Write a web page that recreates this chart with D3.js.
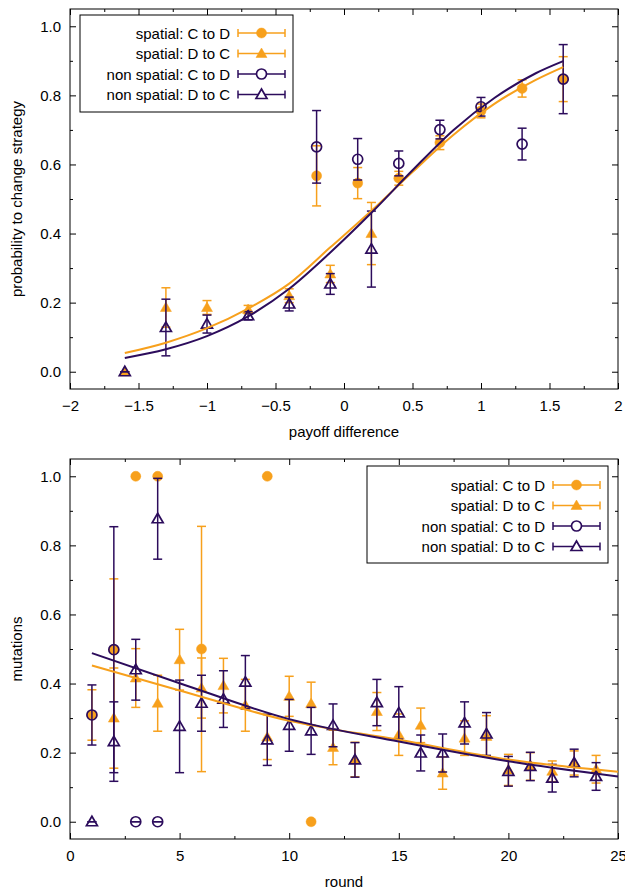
<!DOCTYPE html>
<html>
<head>
<meta charset="utf-8">
<script src="https://cdn.jsdelivr.net/npm/d3@7"></script>
<style>
  body { margin: 0; background: #fff; }
  text { font-family: "Liberation Sans", Arial, sans-serif; font-size: 15px; fill: #000; }
</style>
</head>
<body>
<div id="chart"></div>
<script>
// ---- data: top panel (payoff difference) ----
var payoffCtoD = [-0.2, 0.1, 0.4, 0.7, 1.0, 1.3, 1.6];
var payoffDtoC = [-1.6, -1.3, -1.0, -0.7, -0.4, -0.1, 0.2];
var spatialCtoD = [0.567, 0.546, 0.56, 0.663, 0.755, 0.82, 0.847];
var spatialCtoDErr = [0.087, 0.045, 0.02, 0.02, 0.02, 0.025, 0.065];
var spatialDtoC = [0.0, 0.186, 0.186, 0.18, 0.22, 0.283, 0.40];
var spatialDtoCErr = [0, 0.057, 0.02, 0.012, 0.02, 0.025, 0.09];
var nonSpatialCtoD = [0.651, 0.615, 0.603, 0.701, 0.767, 0.659, 0.847];
var nonSpatialCtoDErr = [0.105, 0.06, 0.036, 0.027, 0.027, 0.046, 0.1];
var nonSpatialDtoC = [0.0, 0.128, 0.138, 0.162, 0.196, 0.254, 0.355];
var nonSpatialDtoCErr = [0, 0.082, 0.026, 0.012, 0.02, 0.03, 0.11];
// fitted curves
var fitPayoff = [-1.6, -1.3, -1.0, -0.7, -0.4, -0.1, 0.2, 0.5, 0.8, 1.1, 1.4, 1.6];
var fitSpatialPayoff = [0.054, 0.084, 0.126, 0.183, 0.255, 0.36, 0.466, 0.578, 0.686, 0.776, 0.845, 0.882];
var fitNonSpatialPayoff = [0.04, 0.065, 0.103, 0.16, 0.24, 0.345, 0.46, 0.583, 0.70, 0.793, 0.864, 0.899];

// ---- data: bottom panel (round) ----
var roundsSpatialCtoD = [1, 2, 3, 4, 6, 9, 11];
var mutSpatialCtoD = [0.309, 0.498, 1, 1, 0.5, 1, 0];
var mutSpatialCtoDErr = [0.073, 0.205, 0, 0, 0.355, 0, 0];
var roundsNonSpatialCtoD = [1, 2, 3, 4];
var mutNonSpatialCtoD = [0.309, 0.498, 0, 0];
var mutNonSpatialCtoDErr = [0.087, 0.356, 0, 0];
var roundsSpatialDtoC = [2, 3, 4, 5, 6, 7, 8, 9, 10, 11, 12, 13, 14, 15, 16, 17, 18, 19, 20, 21, 22, 23, 24];
var mutSpatialDtoC = [0.30, 0.416, 0.343, 0.469, 0.387, 0.394, 0.337, 0.245, 0.363, 0.342, 0.215, 0.18,
  0.319, 0.252, 0.279, 0.141, 0.242, 0.247, 0.15, 0.16, 0.146, 0.17, 0.152];
var mutSpatialDtoCErr = [0.145, 0.085, 0.081, 0.088, 0.087, 0.079, 0.075, 0.065, 0.058, 0.062, 0.05, 0.05,
  0.055, 0.06, 0.05, 0.047, 0.05, 0.06, 0.045, 0.04, 0.03, 0.035, 0.04];
var roundsNonSpatialDtoC = [1, 2, 3, 4, 5, 6, 7, 8, 9, 10, 11, 12, 13, 14, 15, 16, 17, 18, 19, 20, 21, 22, 23, 24];
var mutNonSpatialDtoC = [0, 0.232, 0.44, 0.877, 0.276, 0.343, 0.355, 0.404, 0.237, 0.279, 0.263, 0.279,
  0.179, 0.345, 0.315, 0.199, 0.199, 0.286, 0.254, 0.146, 0.16, 0.126, 0.17, 0.131];
var mutNonSpatialDtoCErr = [0, 0.115, 0.088, 0.117, 0.134, 0.081, 0.082, 0.077, 0.074, 0.075, 0.068, 0.062,
  0.05, 0.067, 0.076, 0.052, 0.055, 0.061, 0.062, 0.043, 0.041, 0.04, 0.04, 0.04];
var fitRounds = [1, 5, 10, 15, 20, 25];
var fitSpatialRound = [0.452, 0.38, 0.292, 0.237, 0.18, 0.145];
var fitNonSpatialRound = [0.488, 0.401, 0.297, 0.232, 0.175, 0.131];

var legendLabels = ["spatial: C to D", "spatial: D to C", "non spatial: C to D", "non spatial: D to C"];
var yTicks = [0, 0.2, 0.4, 0.6, 0.8, 1.0];

var orange = "#f7a01c";
var purple = "#2c0c5c";

function zip(xs, ys, es) {
  return xs.map(function(x, i) { return { x: x, y: ys[i], e: es ? es[i] : 0 }; });
}

var svg = d3.select("#chart").append("svg")
  .attr("width", 625)
  .attr("height", 889);

function drawPanel(p) {
  var x = d3.scaleLinear().domain(p.xDomain).range([p.left, p.right]);
  var y = d3.scaleLinear().domain([-0.05, 1.05]).range([p.bottom, p.top]);
  var g = svg.append("g");

  // axes: ticks inside, mirrored on top/right
  var fmtY = d3.format(".1f");
  g.append("g").attr("transform", "translate(0," + p.bottom + ")")
    .call(d3.axisBottom(x).tickValues(p.xTicks).tickFormat(p.xFormat).tickSizeInner(-6).tickSizeOuter(0).tickPadding(11));
  g.append("g").attr("transform", "translate(0," + p.bottom + ")")
    .call(d3.axisBottom(x).tickValues(p.xMinor).tickFormat("").tickSizeInner(-3).tickSizeOuter(0));
  g.append("g").attr("transform", "translate(0," + p.top + ")")
    .call(d3.axisTop(x).tickValues(p.xTicks).tickFormat("").tickSizeInner(-6).tickSizeOuter(0));
  g.append("g").attr("transform", "translate(0," + p.top + ")")
    .call(d3.axisTop(x).tickValues(p.xMinor).tickFormat("").tickSizeInner(-3).tickSizeOuter(0));
  g.append("g").attr("transform", "translate(" + p.left + ",0)")
    .call(d3.axisLeft(y).tickValues(yTicks).tickFormat(fmtY).tickSizeInner(-6).tickSizeOuter(0).tickPadding(9));
  g.append("g").attr("transform", "translate(" + p.left + ",0)")
    .call(d3.axisLeft(y).tickValues(d3.range(0.1, 1.0, 0.2)).tickFormat("").tickSizeInner(-3).tickSizeOuter(0));
  g.append("g").attr("transform", "translate(" + p.right + ",0)")
    .call(d3.axisRight(y).tickValues(yTicks).tickFormat("").tickSizeInner(-6).tickSizeOuter(0));
  g.append("g").attr("transform", "translate(" + p.right + ",0)")
    .call(d3.axisRight(y).tickValues(d3.range(0.1, 1.0, 0.2)).tickFormat("").tickSizeInner(-3).tickSizeOuter(0));
  g.selectAll(".domain").remove();
  g.selectAll(".tick text").style("font-size", "15px").style("font-family", "Liberation Sans, Arial, sans-serif");

  g.append("rect")
    .attr("x", p.left).attr("y", p.top)
    .attr("width", p.right - p.left).attr("height", p.bottom - p.top)
    .attr("fill", "none").attr("stroke", "#000").attr("stroke-width", 1);

  // axis labels
  g.append("text")
    .attr("x", (p.left + p.right) / 2)
    .attr("y", p.bottom + 48)
    .attr("text-anchor", "middle")
    .text(p.xLabel);
  g.append("text")
    .attr("transform", "rotate(-90)")
    .attr("x", -(p.top + p.bottom) / 2)
    .attr("y", 22)
    .attr("text-anchor", "middle")
    .text(p.yLabel);

  var plot = g.append("g");

  p.series.forEach(function(s) {
    var sg = plot.append("g");
    // error bars
    sg.selectAll("line.bar").data(s.data).enter().append("line")
      .attr("x1", d => x(d.x)).attr("x2", d => x(d.x))
      .attr("y1", d => y(d.y - d.e)).attr("y2", d => y(d.y + d.e))
      .attr("stroke", s.color).attr("stroke-width", 1.5);
    [-1, 1].forEach(function(sign) {
      sg.selectAll(null).data(s.data).enter().append("line")
        .attr("x1", d => x(d.x) - 4.5).attr("x2", d => x(d.x) + 4.5)
        .attr("y1", d => y(d.y + sign * d.e)).attr("y2", d => y(d.y + sign * d.e))
        .attr("stroke", s.color).attr("stroke-width", 1.5);
    });
    sg.selectAll("path.mark").data(s.data).enter().append("path")
      .attr("transform", d => "translate(" + x(d.x) + "," + y(d.y) + ")")
      .attr("d", markerPath(s.shape))
      .attr("fill", s.filled ? s.color : "none")
      .attr("stroke", s.color)
      .attr("stroke-width", s.filled ? 0.5 : 1.7);
  });

  // fitted curves
  var line = d3.line().x(d => x(d.x)).y(d => y(d.y)).curve(d3.curveMonotoneX);
  p.fits.forEach(function(f) {
    plot.append("path")
      .attr("d", line(f.data))
      .attr("fill", "none")
      .attr("stroke", f.color)
      .attr("stroke-width", 2);
  });

  // legend
  var lg = g.append("g");
  lg.append("rect")
    .attr("x", p.legend.x0).attr("y", p.legend.y0)
    .attr("width", p.legend.x1 - p.legend.x0).attr("height", p.legend.y1 - p.legend.y0)
    .attr("fill", "#fff").attr("stroke", "#000").attr("stroke-width", 1);
  p.series.forEach(function(s, i) {
    var ly = p.legend.rowY + i * 20.5;
    lg.append("text")
      .attr("x", p.legend.textX).attr("y", ly + 5.5)
      .attr("text-anchor", "end")
      .text(legendLabels[i]);
    var lx0 = p.legend.textX + 8, lx1 = lx0 + 47;
    lg.append("line").attr("x1", lx0).attr("x2", lx1).attr("y1", ly).attr("y2", ly)
      .attr("stroke", s.color).attr("stroke-width", 1.5);
    [lx0, lx1].forEach(function(cx) {
      lg.append("line").attr("x1", cx).attr("x2", cx).attr("y1", ly - 4).attr("y2", ly + 4)
        .attr("stroke", s.color).attr("stroke-width", 1.5);
    });
    lg.append("path")
      .attr("transform", "translate(" + ((lx0 + lx1) / 2) + "," + ly + ")")
      .attr("d", markerPath(s.shape))
      .attr("fill", s.filled ? s.color : "#fff")
      .attr("stroke", s.color)
      .attr("stroke-width", s.filled ? 0.5 : 1.7);
  });
}

function markerPath(shape) {
  if (shape === "circle") {
    return "M-5,0A5,5 0 1,0 5,0A5,5 0 1,0 -5,0Z";
  }
  return "M0,-5.5L5.5,4L-5.5,4Z";
}

drawPanel({
  left: 70, right: 618, top: 9, bottom: 389,
  xDomain: [-2, 2],
  xTicks: [-2, -1.5, -1, -0.5, 0, 0.5, 1, 1.5, 2],
  xMinor: d3.range(-1.75, 2, 0.5),
  xFormat: d3.format(""),
  xLabel: "payoff difference",
  yLabel: "probability to change strategy",
  series: [
    { data: zip(payoffCtoD, spatialCtoD, spatialCtoDErr), color: orange, shape: "circle", filled: true },
    { data: zip(payoffDtoC, spatialDtoC, spatialDtoCErr), color: orange, shape: "triangle", filled: true },
    { data: zip(payoffCtoD, nonSpatialCtoD, nonSpatialCtoDErr), color: purple, shape: "circle", filled: false },
    { data: zip(payoffDtoC, nonSpatialDtoC, nonSpatialDtoCErr), color: purple, shape: "triangle", filled: false }
  ],
  fits: [
    { data: zip(fitPayoff, fitSpatialPayoff), color: orange },
    { data: zip(fitPayoff, fitNonSpatialPayoff), color: purple }
  ],
  legend: { x0: 80, y0: 15, x1: 293, y1: 112, textX: 230, rowY: 33 }
});

drawPanel({
  left: 70, right: 618, top: 459, bottom: 839,
  xDomain: [0, 25],
  xTicks: [0, 5, 10, 15, 20, 25],
  xMinor: d3.range(2.5, 25, 5),
  xFormat: d3.format("d"),
  xLabel: "round",
  yLabel: "mutations",
  series: [
    { data: zip(roundsSpatialCtoD, mutSpatialCtoD, mutSpatialCtoDErr), color: orange, shape: "circle", filled: true },
    { data: zip(roundsSpatialDtoC, mutSpatialDtoC, mutSpatialDtoCErr), color: orange, shape: "triangle", filled: true },
    { data: zip(roundsNonSpatialCtoD, mutNonSpatialCtoD, mutNonSpatialCtoDErr), color: purple, shape: "circle", filled: false },
    { data: zip(roundsNonSpatialDtoC, mutNonSpatialDtoC, mutNonSpatialDtoCErr), color: purple, shape: "triangle", filled: false }
  ],
  fits: [
    { data: zip(fitRounds, fitSpatialRound), color: orange },
    { data: zip(fitRounds, fitNonSpatialRound), color: purple }
  ],
  legend: { x0: 367, y0: 466, x1: 608, y1: 563, textX: 545, rowY: 485 }
});
</script>
</body>
</html>
